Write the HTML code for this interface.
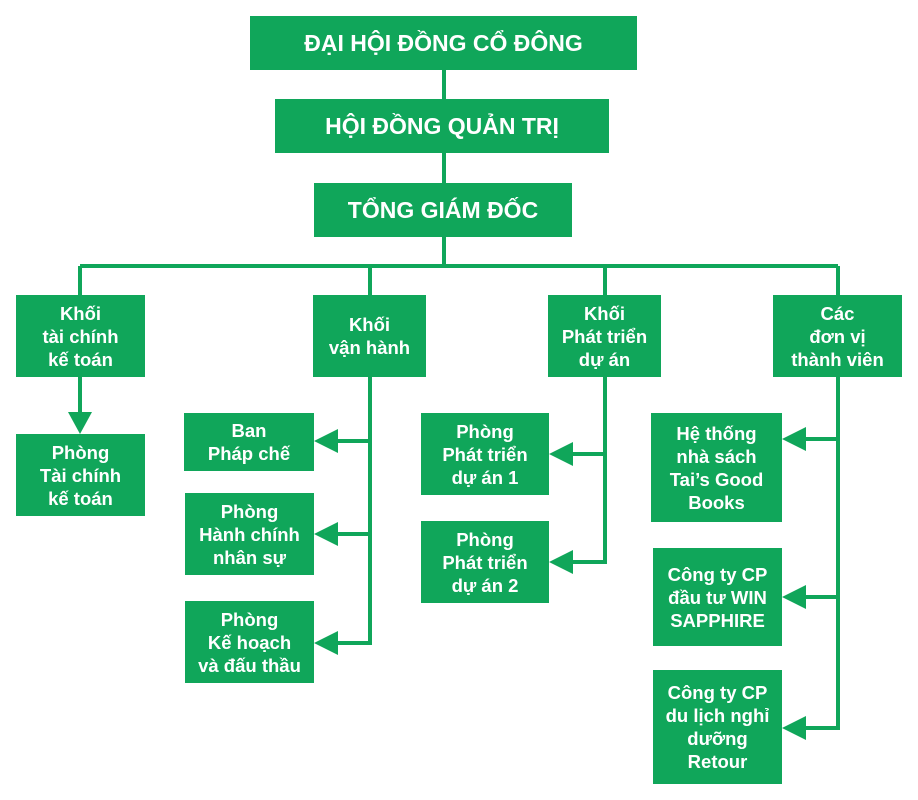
<!DOCTYPE html>
<html><head><meta charset="utf-8"><style>
body{margin:0;width:918px;height:800px;background:#fff;position:relative;overflow:hidden;font-family:"Liberation Sans",Arial,sans-serif}
.b{position:absolute;background:#10a65a;color:#fff;font-weight:bold;display:flex;align-items:center;justify-content:center;text-align:center;box-sizing:border-box}
.t{font-size:23px}
.s{font-size:18.5px;line-height:23px}
svg{position:absolute;left:0;top:0}
</style></head><body>
<svg width="918" height="800" viewBox="0 0 918 800">
<g stroke="#10a65a" stroke-width="4" fill="none">
<line x1="444" y1="69" x2="444" y2="99"/>
<line x1="444" y1="153" x2="444" y2="183"/>
<line x1="444" y1="237" x2="444" y2="266"/>
<line x1="80" y1="266" x2="838" y2="266"/>
<line x1="80" y1="266" x2="80" y2="295"/>
<line x1="370" y1="266" x2="370" y2="295"/>
<line x1="605" y1="266" x2="605" y2="295"/>
<line x1="838" y1="266" x2="838" y2="295"/>
<line x1="80" y1="376" x2="80" y2="414"/>
<polyline points="370,376 370,643 336,643"/>
<line x1="370" y1="441" x2="336" y2="441"/>
<line x1="370" y1="534" x2="336" y2="534"/>
<polyline points="605,376 605,562 571,562"/>
<line x1="605" y1="454" x2="571" y2="454"/>
<polyline points="838,376 838,728 804,728"/>
<line x1="838" y1="439" x2="804" y2="439"/>
<line x1="838" y1="597" x2="804" y2="597"/>
</g>
<g fill="#10a65a">
<polygon points="68,412 92,412 80,434"/>
<polygon points="314,441 338,429 338,453"/>
<polygon points="314,534 338,522 338,546"/>
<polygon points="314,643 338,631 338,655"/>
<polygon points="549,454 573,442 573,466"/>
<polygon points="549,562 573,550 573,574"/>
<polygon points="782,439 806,427 806,451"/>
<polygon points="782,597 806,585 806,609"/>
<polygon points="782,728 806,716 806,740"/>
</g>
</svg>
<div class="b t" style="left:250px;top:16px;width:387px;height:54px">ĐẠI HỘI ĐỒNG CỔ ĐÔNG</div>
<div class="b t" style="left:275px;top:99px;width:334px;height:54px">HỘI ĐỒNG QUẢN TRỊ</div>
<div class="b t" style="left:314px;top:183px;width:258px;height:54px">TỔNG GIÁM ĐỐC</div>
<div class="b s" style="left:16px;top:295px;width:129px;height:82px">Khối<br>tài chính<br>kế toán</div>
<div class="b s" style="left:313px;top:295px;width:113px;height:82px">Khối<br>vận hành</div>
<div class="b s" style="left:548px;top:295px;width:113px;height:82px">Khối<br>Phát triển<br>dự án</div>
<div class="b s" style="left:773px;top:295px;width:129px;height:82px">Các<br>đơn vị<br>thành viên</div>
<div class="b s" style="left:16px;top:434px;width:129px;height:82px">Phòng<br>Tài chính<br>kế toán</div>
<div class="b s" style="left:184px;top:413px;width:130px;height:58px">Ban<br>Pháp chế</div>
<div class="b s" style="left:185px;top:493px;width:129px;height:82px">Phòng<br>Hành chính<br>nhân sự</div>
<div class="b s" style="left:185px;top:601px;width:129px;height:82px">Phòng<br>Kế hoạch<br>và đấu thầu</div>
<div class="b s" style="left:421px;top:413px;width:128px;height:82px">Phòng<br>Phát triển<br>dự án 1</div>
<div class="b s" style="left:421px;top:521px;width:128px;height:82px">Phòng<br>Phát triển<br>dự án 2</div>
<div class="b s" style="left:651px;top:413px;width:131px;height:109px">Hệ thống<br>nhà sách<br>Tai’s Good<br>Books</div>
<div class="b s" style="left:653px;top:548px;width:129px;height:98px">Công ty CP<br>đầu tư WIN<br>SAPPHIRE</div>
<div class="b s" style="left:653px;top:670px;width:129px;height:114px">Công ty CP<br>du lịch nghỉ<br>dưỡng<br>Retour</div>
</body></html>
